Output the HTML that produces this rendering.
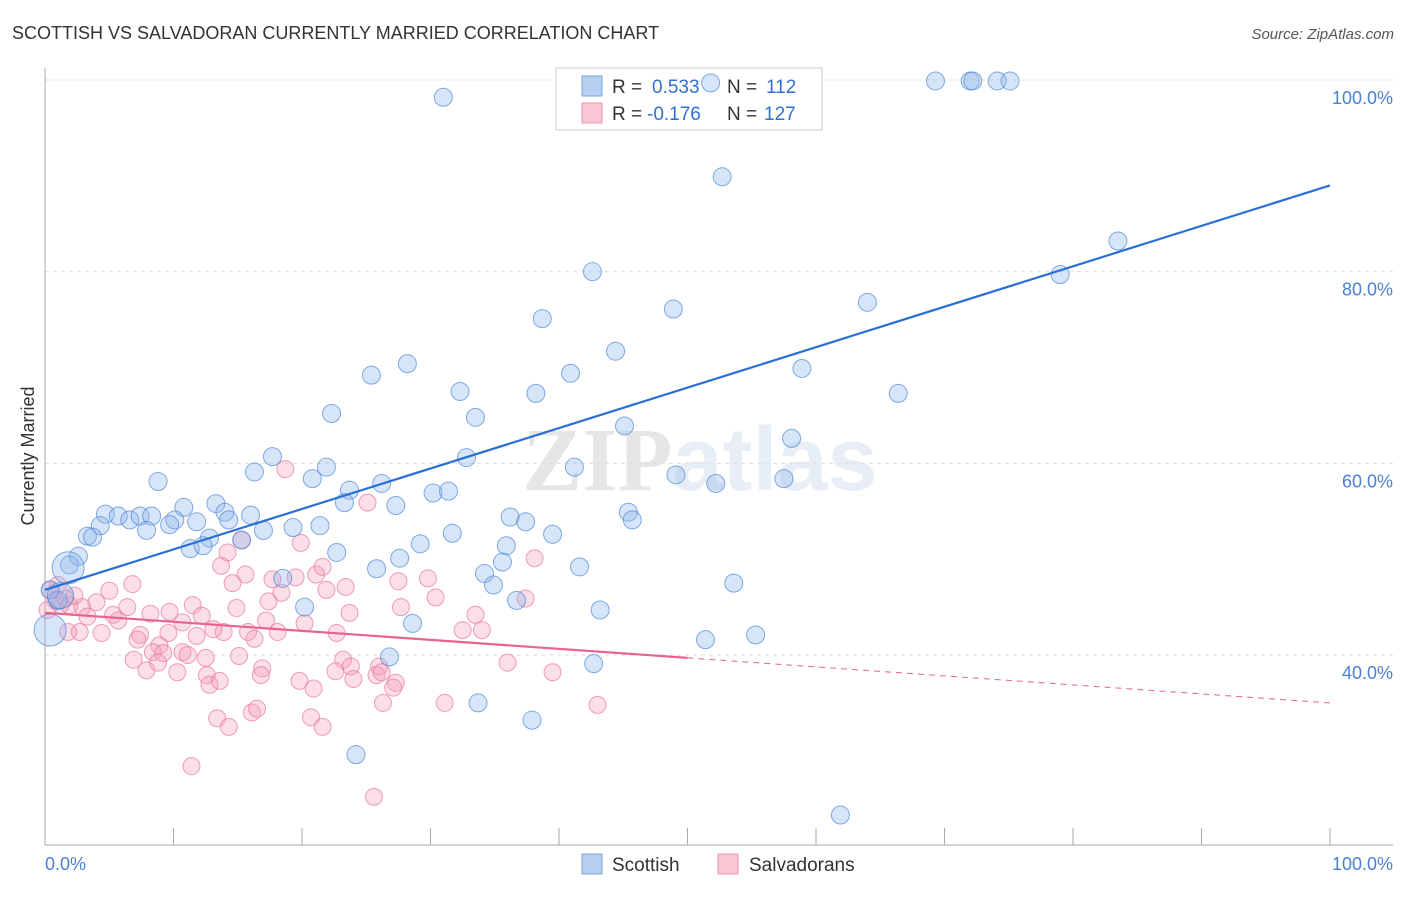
<!DOCTYPE html>
<html><head><meta charset="utf-8"><style>
body{margin:0;background:#fff;font-family:"Liberation Sans",sans-serif;}
svg text{font-family:"Liberation Sans",sans-serif;}
</style></head><body>
<svg width="1406" height="892" xmlns="http://www.w3.org/2000/svg">
<text x="12" y="39" font-size="18" fill="#333">SCOTTISH VS SALVADORAN CURRENTLY MARRIED CORRELATION CHART</text>
<text x="1394" y="39" font-size="15" fill="#555" text-anchor="end" font-style="italic">Source: ZipAtlas.com</text>
<text x="700" y="490" font-size="90" fill="#e8eef6" text-anchor="middle" font-weight="bold"><tspan fill="#e6e6e6" font-family="Liberation Serif">ZIP</tspan>atlas</text>
<g id="grid"></g>
<g id="axes"></g>
<g>
<rect x="556" y="68" width="266" height="62" fill="#fff" stroke="#ccc"/>
<rect x="582" y="76" width="20" height="20" fill="#b7d0f2" stroke="#7aa3e0"/>
<rect x="582" y="103" width="20" height="20" fill="#f9c6d4" stroke="#ec94ad"/>
<text x="612" y="93" font-size="19" fill="#333">R =</text>
<text x="652" y="93" font-size="19" fill="#2f6fd6">0.533</text>
<text x="727" y="93" font-size="19" fill="#333">N =</text>
<text x="766" y="93" font-size="19" fill="#2f6fd6">112</text>
<text x="612" y="120" font-size="19" fill="#333">R =</text>
<text x="647" y="120" font-size="19" fill="#2f6fd6">-0.176</text>
<text x="727" y="120" font-size="19" fill="#333">N =</text>
<text x="764" y="120" font-size="19" fill="#2f6fd6">127</text>
</g>
<g id="pts"></g>
<g id="lines"></g>
<text transform="translate(34,456) rotate(-90)" font-size="18" fill="#333" text-anchor="middle">Currently Married</text>
<text x="45" y="870" font-size="18" fill="#4a7fd6">0.0%</text>
<text x="1393" y="870" font-size="18" fill="#4a7fd6" text-anchor="end">100.0%</text>
<g>
<rect x="582" y="854" width="20" height="20" fill="#b7d0f2" stroke="#7aa3e0"/>
<text x="612" y="871" font-size="19" fill="#333">Scottish</text>
<rect x="718" y="854" width="20" height="20" fill="#f9c6d4" stroke="#ec94ad"/>
<text x="749" y="871" font-size="19" fill="#333">Salvadorans</text>
</g>
</svg>
<script>
const yTicks=[40,60,80,100];
const xTicks=[0,10,20,30,40,50,60,70,80,90,100];
const blueX=[31.0,51.8,69.3,72.0,72.2,74.1,75.1,52.7,83.5,42.6,79.0,64.0,48.9,38.7,44.4,28.2,25.4,58.9,32.3,40.9,38.2,66.4,33.5,22.3,45.1,58.1,32.8,17.7,41.2,49.1,16.3,21.9,20.8,52.2,57.5,8.8,26.2,23.7,30.2,31.4,23.3,27.3,13.3,10.8,45.4,45.7,36.2,37.4,4.7,5.7,6.6,7.4,8.3,10.1,11.8,14.0,16.0,14.3,4.3,7.9,9.7,3.3,3.7,17.0,19.3,21.4,31.7,39.5,15.3,12.8,11.3,12.3,22.7,29.2,35.9,2.6,27.6,35.6,25.8,41.6,34.2,34.9,53.6,1.9,36.7,43.2,20.2,18.5,28.6,51.4,55.3,26.8,42.7,33.7,37.9,24.2,61.9,1.0,0.4,0.4,1.8,1.2];
const blueY=[98.2,99.7,99.9,99.9,99.9,99.9,99.9,89.9,83.2,80.0,79.7,76.8,76.1,75.1,71.7,70.4,69.2,69.9,67.5,69.4,67.3,67.3,64.8,65.2,63.9,62.6,60.6,60.7,59.6,58.8,59.1,59.6,58.4,57.9,58.4,58.1,57.9,57.2,56.9,57.1,55.9,55.6,55.8,55.4,54.9,54.1,54.4,53.9,54.7,54.5,54.1,54.5,54.5,54.1,53.9,54.9,54.6,54.1,53.5,53.0,53.6,52.4,52.3,53.0,53.3,53.5,52.7,52.6,52.0,52.2,51.1,51.4,50.7,51.6,51.4,50.3,50.1,49.7,49.0,49.2,48.5,47.3,47.5,49.4,45.7,44.7,45.0,48.0,43.3,41.6,42.1,39.8,39.1,35.0,33.2,29.6,23.3,45.7,46.8,42.6,49.1,46.2];
const blueR=[9,9,9,9,9,9,9,9,9,9,9,9,9,9,9,9,9,9,9,9,9,9,9,9,9,9,9,9,9,9,9,9,9,9,9,9,9,9,9,9,9,9,9,9,9,9,9,9,9,9,9,9,9,9,9,9,9,9,9,9,9,9,9,9,9,9,9,9,9,9,9,9,9,9,9,9,9,9,9,9,9,9,9,9,9,9,9,9,9,9,9,9,9,9,9,9,9,9,9,16,16,13];
const pinkX=[18.7,25.1,19.9,15.3,14.2,13.7,15.6,14.6,17.7,19.5,21.1,21.6,21.9,23.4,27.5,27.7,23.7,18.4,17.4,14.9,20.2,17.2,18.1,15.8,16.3,22.7,13.9,13.1,11.5,12.2,10.7,9.7,8.2,7.4,7.2,9.6,11.8,8.9,8.4,9.2,10.7,11.1,6.9,7.9,8.8,10.3,12.5,12.6,12.8,13.6,15.1,16.9,16.8,19.8,20.9,23.2,23.8,22.6,24.0,26.0,25.8,27.3,27.1,26.3,13.4,14.3,16.1,16.5,20.7,21.6,11.4,25.6,6.8,5.0,6.4,4.0,2.9,3.3,2.7,1.8,4.4,5.3,5.7,0.4,0.8,1.2,1.6,1.9,0.2,1.0,2.3,29.8,30.4,32.5,33.5,34.0,36.0,37.4,38.1,39.5,43.0,31.1,26.2];
const pinkY=[59.4,55.9,51.7,52.0,50.7,49.3,48.4,47.5,47.9,48.1,48.4,49.2,46.8,47.1,47.7,45.0,44.4,46.5,45.6,44.9,43.3,43.6,42.4,42.4,41.7,42.3,42.4,42.7,45.2,44.1,43.4,44.5,44.3,42.1,41.6,42.3,42.0,41.0,40.3,40.2,40.3,40.0,39.5,38.4,39.2,38.2,39.7,37.9,36.9,37.3,39.9,38.6,37.9,37.3,36.5,39.5,38.8,38.3,37.5,38.8,37.9,37.1,36.6,35.0,33.4,32.5,34.0,34.4,33.5,32.5,28.4,25.2,47.4,46.7,45.0,45.5,45.0,44.0,42.4,42.4,42.3,44.2,43.6,46.8,45.7,45.2,45.9,45.2,44.7,47.3,46.2,48.0,46.0,42.6,44.2,42.6,39.2,45.9,50.1,38.2,34.8,35.0,38.2];
const blueLine=[46.8,89.0];
const pinkLine=[44.4,35.0];
const pinkSolidEnd=50;

const NS='http://www.w3.org/2000/svg';
const X0=45,X1=1330,YT=80,YB=655;
const xs=v=>X0+(X1-X0)*v/100;
const ys=v=>YB-(YB-YT)*(v-40)/60;
function mk(tag,at,parent){const e=document.createElementNS(NS,tag);for(const k in at)e.setAttribute(k,at[k]);document.getElementById(parent).appendChild(e);return e;}

yTicks.forEach(t=>{
  const g=mk('line',{x1:X0,x2:1393,y1:ys(t),y2:ys(t),stroke:'#ddd','stroke-dasharray':'4,4'},'grid');
  
  
  const tx=mk('text',{x:1393,y:ys(t)+24,'font-size':18,fill:'#4a7fd6','text-anchor':'end'},'grid');
  tx.textContent=t.toFixed(1)+'%';
  
  
});
const ax=mk('line',{x1:X0,x2:X0,y1:68,y2:845,stroke:'#aaa'},'axes');


const bx=mk('line',{x1:X0,x2:1393,y1:845,y2:845,stroke:'#aaa'},'axes');


xTicks.forEach(t=>{
  const l=mk('line',{x1:xs(t),x2:xs(t),y1:828,y2:845,stroke:'#aaa'},'axes');
  
  
});
pinkX.forEach((v,i)=>{
  const c=mk('circle',{cx:xs(v),cy:ys(pinkY[i]),r:8.5,fill:'rgba(244,160,186,0.35)',stroke:'rgba(232,120,155,0.7)','stroke-width':1},'pts');
  
  
});
blueX.forEach((v,i)=>{
  const c=mk('circle',{cx:xs(v),cy:ys(blueY[i]),r:blueR[i],fill:'rgba(140,180,235,0.35)',stroke:'rgba(80,135,215,0.7)','stroke-width':1},'pts');
  
  
});
const bl=mk('line',{x1:xs(0),y1:ys(blueLine[0]),x2:xs(100),y2:ys(blueLine[1]),stroke:'#2a6fd6','stroke-width':2.2},'lines');


const pAt=x=>pinkLine[0]+(pinkLine[1]-pinkLine[0])*x/100;
const pl=mk('line',{x1:xs(0),y1:ys(pAt(0)),x2:xs(pinkSolidEnd),y2:ys(pAt(pinkSolidEnd)),stroke:'#e8638e','stroke-width':2.2},'lines');


const pd=mk('line',{x1:xs(pinkSolidEnd),y1:ys(pAt(pinkSolidEnd)),x2:xs(100),y2:ys(pAt(100)),stroke:'#e8638e','stroke-width':1,'stroke-dasharray':'6,5'},'lines');


</script>
</body></html>
